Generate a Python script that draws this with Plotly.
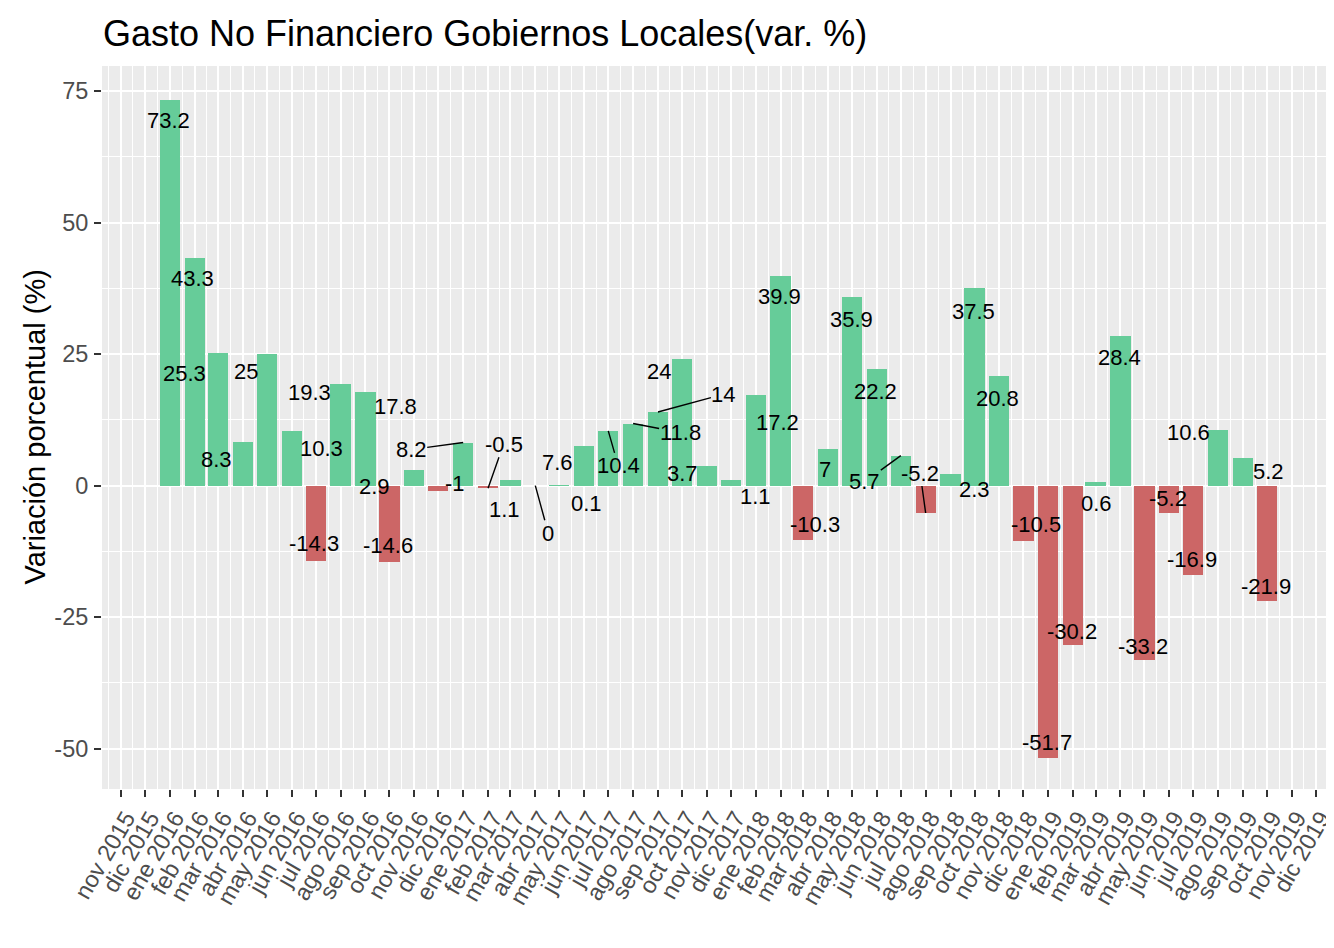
import pandas as pd
import plotly.graph_objects as go

# ---------------- data ----------------
bar_months = pd.date_range("2016-01-01", "2019-10-01", freq="MS")
values = [73.2, 43.3, 25.3, 8.3, 25, 10.3, -14.3, 19.3, 17.8, -14.6, 2.9, -1,
          8.2, -0.5, 1.1, 0, 0.1, 7.6, 10.4, 11.8, 14, 24, 3.7, 1.1,
          17.2, 39.9, -10.3, 7, 35.9, 22.2, 5.7, -5.2, 2.3, 37.5, 20.8, -10.5,
          -51.7, -30.2, 0.6, 28.4, -33.2, -5.2, -16.9, 10.6, 5.2, -21.9]
value_labels = ["73.2", "43.3", "25.3", "8.3", "25", "10.3", "-14.3", "19.3", "17.8", "-14.6", "2.9", "-1",
                "8.2", "-0.5", "1.1", "0", "0.1", "7.6", "10.4", "11.8", "14", "24", "3.7", "1.1",
                "17.2", "39.9", "-10.3", "7", "35.9", "22.2", "5.7", "-5.2", "2.3", "37.5", "20.8", "-10.5",
                "-51.7", "-30.2", "0.6", "28.4", "-33.2", "-5.2", "-16.9", "10.6", "5.2", "-21.9"]

tick_months = pd.date_range("2015-11-01", "2019-12-01", freq="MS")
month_abbr = ["ene", "feb", "mar", "abr", "may", "jun", "jul", "ago", "sep", "oct", "nov", "dic"]
tick_labels = [f"{month_abbr[d.month - 1]} {d.year}" for d in tick_months]

y_ticks = [-50, -25, 0, 25, 50, 75]
y_tick_labels = ["-50", "-25", "0", "25", "50", "75"]

# ---------------- layout helpers (label placement, repel-like) ----------------
# pixel offset of each label centre from the bar end (dx right, dy down)
label_offsets = [(-1.5, 20.5), (-2, 20.6), (-33, 21), (-26, 18), (-21, 17), (30, 17), (-2, -17),
                 (-31, 8), (30, 15), (-1, -17), (-40, 16), (16.5, -7),
                 (-52, 7), (15.5, -44), (-6, 30), (13, 47.6), (27, 18), (-26.5, 17), (10, 35),
                 (47, 9), (65.5, -17.7), (-23, 12), (-24.5, 7), (25, 17),
                 (22, 27.6), (-1, 21), (12, -15), (-3, 21), (0, 23), (-1, 23), (-36, 26),
                 (-5.5, -40), (24, 16.4), (-1, 23.5), (-2, 22), (12.5, -16),
                 (-1, -15.6), (-1, -13), (1, 21), (-1, 21), (-1, -14), (-1, -15), (-1, -15),
                 (-30, 3), (25, 13), (-1, -14)]
with_segment = [False] * 46
for i in (12, 13, 15, 18, 19, 20, 30, 31):
    with_segment[i] = True

GREEN = "#66CC99"
RED = "#CC6666"
FONT = "Arial, Liberation Sans, sans-serif"

# the page body adds an 8px offset; the figure is sized to fill the rest of the window
W, H = 1326, 940
ML, MR, MT, MB = 94, 4, 58, 159

colors = [GREEN if v >= 0 else RED for v in values]
bar_width_ms = 25.2 * 86400000

fig = go.Figure()
fig.add_trace(go.Bar(
    x=bar_months, y=values, marker=dict(color=colors, line=dict(width=0)),
    width=[bar_width_ms] * len(values), hoverinfo="x+y", showlegend=False,
))

annotations = []
for m, v, txt, (dx, dy), seg in zip(bar_months, values, value_labels, label_offsets, with_segment):
    annotations.append(dict(
        x=m, y=v, xref="x", yref="y", text=txt, showarrow=True,
        ax=dx, ay=dy, axref="pixel", ayref="pixel",
        arrowhead=0, arrowwidth=1.4, standoff=0, startstandoff=0,
        arrowcolor="black" if seg else "rgba(0,0,0,0)",
        font=dict(family=FONT, size=22, color="black"),
        borderpad=0,
    ))

# y axis title
plot_w = W - ML - MR
annotations.append(dict(
    x=(26 - ML) / plot_w, y=0.5, xref="paper", yref="paper", text="Variación porcentual (%)",
    textangle=-90, showarrow=False, xanchor="center", yanchor="middle",
    font=dict(family=FONT, size=29, color="black"),
))

# minor vertical grid positions: midpoints between month starts
edges = pd.date_range("2015-10-01", "2020-01-01", freq="MS")
x_minor = [a + (b - a) / 2 for a, b in zip(edges[:-1], edges[1:])]

fig.update_layout(
    width=W, height=H,
    margin=dict(l=ML, r=MR, t=MT, b=MB, pad=0, autoexpand=False),
    paper_bgcolor="white", plot_bgcolor="#EBEBEB",
    title=dict(text="Gasto No Financiero Gobiernos Locales(var. %)", x=95 / W, xref="container",
               xanchor="left", y=1 - 25 / H, yref="container", yanchor="middle",
               font=dict(family=FONT, size=36, color="black")),
    annotations=annotations,
    bargap=0,
    showlegend=False,
)

fig.update_xaxes(
    type="date", range=["2015-10-08 08:00", "2019-12-18 12:00"],
    tickmode="array", tickvals=list(tick_months), ticktext=tick_labels,
    tickangle=-60, ticks="outside", ticklen=7, tickwidth=2, tickcolor="#333333",
    tickfont=dict(family=FONT, size=23.5, color="#4D4D4D"),
    ticklabelshift=5, ticklabelstandoff=-2, ticklabeloverflow="allow",
    showgrid=True, gridcolor="white", gridwidth=2,
    minor=dict(tickvals=x_minor, showgrid=True, gridcolor="white", gridwidth=1, ticks=""),
    zeroline=False, showline=False, fixedrange=True, automargin=False,
)
fig.update_yaxes(
    range=[-57.65, 79.75],
    tickmode="array", tickvals=y_ticks, ticktext=y_tick_labels,
    ticks="outside", ticklen=7, tickwidth=2, tickcolor="#333333",
    tickfont=dict(family=FONT, size=23.5, color="#4D4D4D"),
    ticklabelstandoff=1,
    showgrid=True, gridcolor="white", gridwidth=2,
    minor=dict(tickvals=[-62.5, -37.5, -12.5, 12.5, 37.5, 62.5], showgrid=True,
               gridcolor="white", gridwidth=1, ticks=""),
    zeroline=False, showline=False, fixedrange=True, automargin=False,
)

fig.write_html("out.html")
